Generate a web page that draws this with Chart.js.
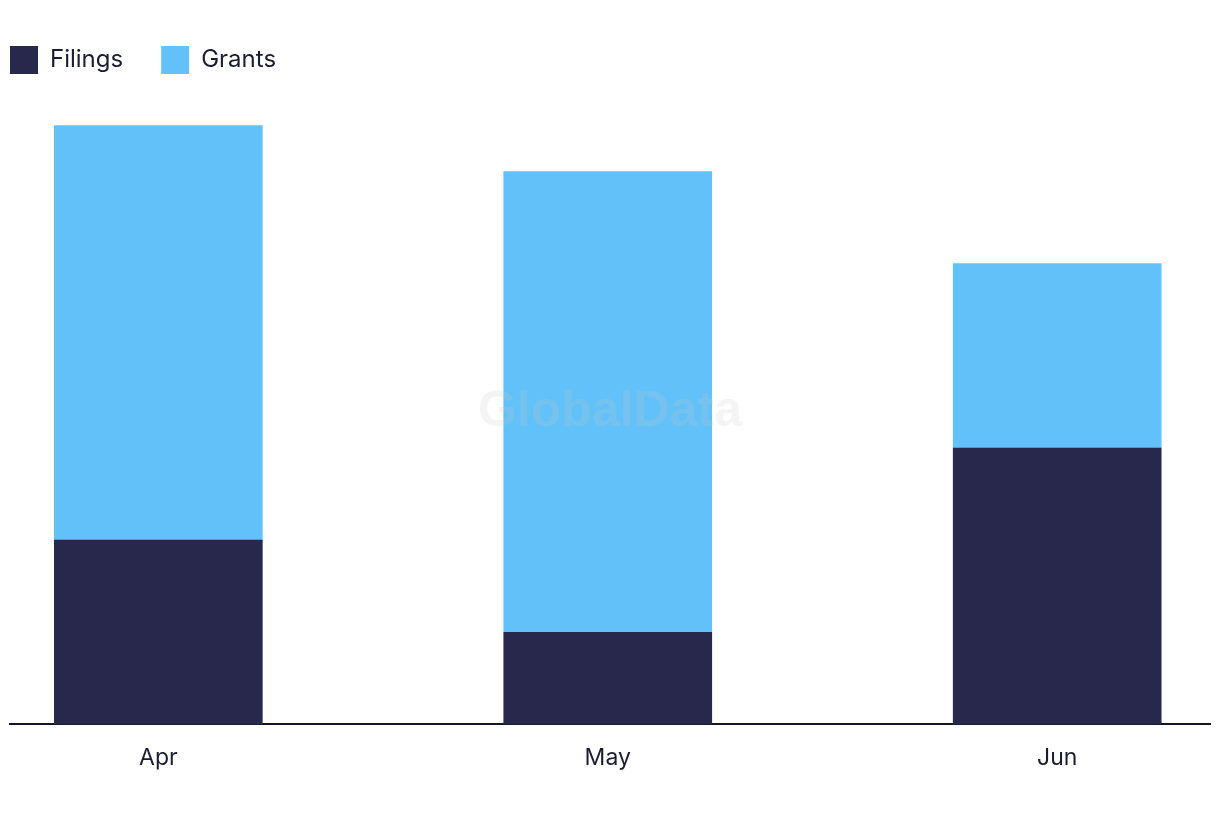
<!DOCTYPE html>
<html>
<head>
<meta charset="utf-8">
<script src="https://cdn.jsdelivr.net/npm/chart.js@4"></script>
<style>
  html, body { margin: 0; padding: 0; background: #fff; }
  #wrap { width: 1220px; height: 822px; }
</style>
</head>
<body>
<div id="wrap"><canvas id="bars"></canvas></div>
<script>
const months = ['Apr', 'May', 'Jun'];
const filings = [4, 2, 6];
const grants = [9, 10, 4];

// faint watermark drawn over the bars
const watermark = {
    id: 'watermark',
    beforeDraw(chart) {
        // pull the legend back to the left edge (labels.padding also sets item spacing)
        chart.legend.left = 10 - chart.options.plugins.legend.labels.padding;
    },
    afterDatasetsDraw(chart) {
        const { ctx } = chart;
        ctx.save();
        ctx.font = 'bold 50px "Liberation Sans", Arial, sans-serif';
        ctx.fillStyle = 'rgba(200, 200, 200, 0.2)';
        ctx.textAlign = 'center';
        ctx.textBaseline = 'middle';
        ctx.fillText('GlobalData', 610, 412);
        ctx.restore();
    }
};

const ctx = document.getElementById('bars');

new Chart(ctx, {
    type: 'bar',
    data: {
        datasets: [{
            label: 'Filings',
            data: filings.map((v, i) => ({ x: i, y: v })),
            backgroundColor: '#27284b',
            barThickness: 208
        }, {
            label: 'Grants',
            data: grants.map((v, i) => ({ x: i, y: v })),
            backgroundColor: '#62c1f9',
            barThickness: 208
        }]
    },
    plugins: [watermark],
    options: {
        responsive: true,
        maintainAspectRatio: false,
        animation: false,
        layout: { padding: { left: 10, right: 10, top: 8, bottom: 30 } },
        plugins: {
            tooltip: { enabled: false },
            legend: {
                position: 'top',
                align: 'start',
                labels: {
                    boxWidth: 28,
                    boxHeight: 28,
                    padding: 38,
                    color: '#1b1b33',
                    font: { family: 'Inter, "Noto Sans", sans-serif', size: 24 }
                }
            }
        },
        scales: {
            x: {
                type: 'linear',
                stacked: true,
                offset: false,
                min: -0.33,
                max: 2.34,
                grid: { display: false, drawTicks: false, offset: false },
                border: { display: true, color: '#14142a', width: 2 },
                ticks: {
                    stepSize: 1,
                    includeBounds: false,
                    padding: 20,
                    color: '#1b1b33',
                    font: { family: 'Inter, "Noto Sans", sans-serif', size: 23 },
                    callback: (v) => months[v] !== undefined ? months[v] : ''
                }
            },
            y: {
                stacked: true,
                display: false,
                min: 0,
                max: 13.9
            }
        }
    }
});
</script>
</body>
</html>
